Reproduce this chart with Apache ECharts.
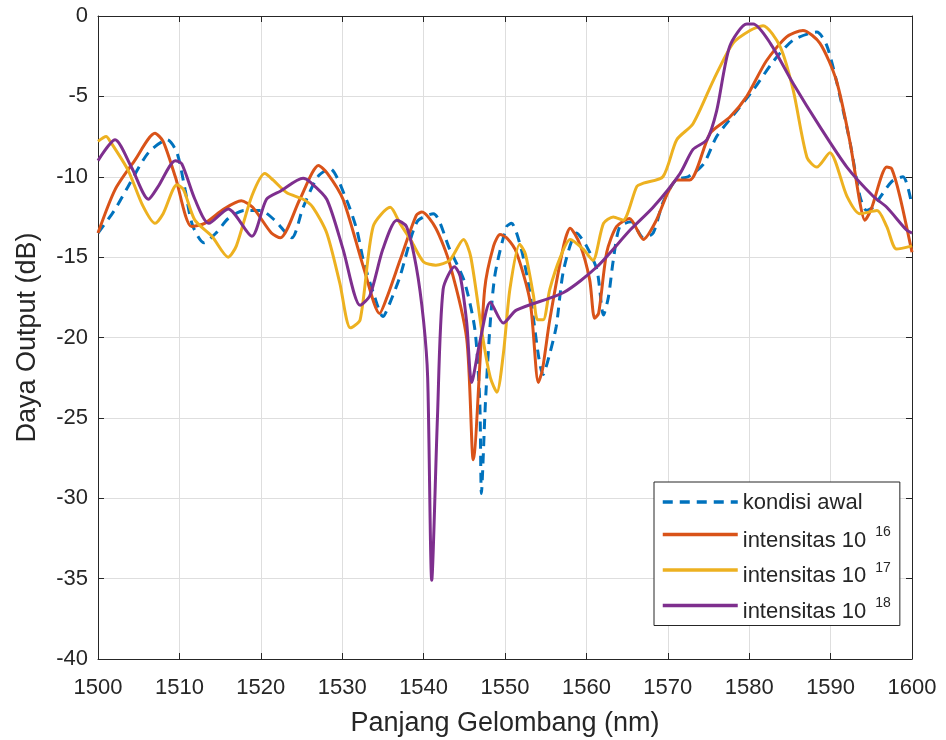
<!DOCTYPE html>
<html>
<head>
<meta charset="utf-8">
<script src="https://cdn.jsdelivr.net/npm/echarts@6/dist/echarts.min.js"></script>
<style>
  html, body { margin: 0; padding: 0; background: #fff; }
  #chart { width: 946px; height: 740px; }
</style>
</head>
<body>
<div id="chart"></div>
<script>
// wavelength (nm) / output power (dB)
const seriesNames = ['kondisi awal', 'intensitas 10^16', 'intensitas 10^17', 'intensitas 10^18']

const awal = [
  [1500,-13.5],[1502,-12.1],[1503.7,-10.6],[1506.2,-8.5],[1508.5,-7.7],[1509.7,-8.5],[1510.7,-10.8],
  [1511.6,-13],[1513,-14.1],[1514.5,-13.5],[1516,-12.6],[1518,-12.1],[1520,-12.1],[1521.7,-12.7],
  [1523.8,-13.8],[1525.2,-11.9],[1527,-10],[1528.5,-9.5],[1530.5,-11.4],[1531.8,-13.3],[1532.6,-15.2],
  [1534,-17.5],[1535,-18.7],[1535.9,-17.8],[1537.1,-16.2],[1539.2,-12.8],[1541.2,-12.3],[1543.2,-14.5],
  [1545,-16.5],[1546.3,-19.5],[1546.9,-24],[1547.1,-29.7],[1547.6,-24],[1548.2,-19],[1548.8,-16],
  [1550.2,-13.1],[1550.8,-12.9],[1552,-14.5],[1553,-17],[1554.7,-22.3],[1555.5,-21],[1556.3,-19.3],
  [1557.2,-15.8],[1558.8,-13.5],[1560,-14.3],[1561.3,-15.8],[1562.1,-18.6],[1562.7,-17.5],[1563.3,-15.2],
  [1564.1,-13.1],[1565.5,-12.8],[1567,-13.8],[1568.2,-13.5],[1569.4,-11.6],[1571,-10.2],[1572.5,-10],
  [1574.4,-9.2],[1576,-7.5],[1578,-6.2],[1580.5,-4.6],[1583,-2.8],[1585.4,-1.5],[1588.3,-1.0],
  [1589.5,-1.8],[1590.7,-4],[1592.4,-7.9],[1593.6,-11.2],[1594.4,-12.1],[1595.2,-11.9],[1597.5,-10.3],
  [1598.9,-10],[1600,-11.8]
]

const int16 = [
  [1500,-13.5],[1502.1,-10.8],[1504.5,-9],[1507,-7.3],[1508,-7.8],[1509.5,-10],[1511.5,-13.1],
  [1513.1,-12.9],[1515.5,-12],[1517.6,-11.5],[1519,-11.9],[1521.3,-13.5],[1522.4,-13.8],[1524.8,-11.4],
  [1527.1,-9.3],[1528.2,-9.8],[1530.1,-11.4],[1532.6,-15.6],[1534.6,-18.5],[1535.5,-17.5],[1537.1,-15.2],
  [1539.1,-12.4],[1539.8,-12.2],[1541.5,-13.2],[1543.2,-15.4],[1545.3,-20.1],[1546.1,-27.6],
  [1547.5,-17],[1548.6,-14.3],[1549.4,-13.6],[1550.2,-13.8],[1551.4,-14.7],[1553.1,-17.8],[1554.1,-22.8],
  [1554.6,-22],[1555.5,-18.9],[1557.2,-14.3],[1558,-13.2],[1559.2,-14.2],[1560.4,-16.4],[1561,-18.8],
  [1561.5,-18.5],[1562.5,-14.7],[1563.7,-13.1],[1565.3,-12.6],[1567,-13.9],[1568.5,-12.8],[1570,-11],
  [1571.1,-10.2],[1572.7,-10.2],[1575.2,-7.3],[1577.6,-6.3],[1579.7,-5],[1582.1,-2.8],[1584.6,-1.3],
  [1586.6,-0.9],[1588.7,-1.7],[1590.7,-4],[1592.4,-7.9],[1593.6,-11.6],[1594.2,-12.7],[1595,-12],
  [1596.9,-9.4],[1597.5,-9.5],[1598.5,-11.2],[1600,-14.7]
]

const int17 = [
  [1500,-7.8],[1501,-7.5],[1501.5,-7.8],[1503.7,-9.6],[1505.5,-11.8],[1507,-12.9],[1508,-12.3],
  [1509.7,-10.5],[1510.5,-10.8],[1511.9,-12.7],[1514,-13.7],[1516,-15],[1517,-14.3],[1518.9,-11.2],
  [1520.5,-9.8],[1521.5,-10.2],[1523.2,-11],[1525.2,-11.4],[1526.4,-11.9],[1528.1,-13.5],[1529.7,-16.6],
  [1531,-19.4],[1532.2,-18.9],[1533.8,-13.1],[1535.9,-11.9],[1537.1,-12.9],[1538.5,-14],[1540,-15.3],
  [1541.5,-15.5],[1543.2,-15.2],[1544.9,-13.9],[1545.8,-15],[1547.3,-20.1],[1548.2,-22.5],[1549,-23.4],
  [1549.8,-21],[1550.6,-17],[1551.8,-14.2],[1552.5,-14.8],[1553.5,-17.4],[1554,-18.9],[1554.7,-18.9],
  [1555.5,-17],[1556.8,-15],[1558,-13.9],[1559.6,-14.5],[1560.8,-15.2],[1562.1,-12.9],[1563.3,-12.5],
  [1564.5,-12.7],[1566.2,-10.6],[1567,-10.4],[1569.4,-10],[1571.1,-7.7],[1573.1,-6.7],[1575.6,-4],
  [1578,-1.7],[1580.1,-0.9],[1581.7,-0.6],[1583.8,-1.9],[1585.4,-4.6],[1587.1,-8.8],[1588.3,-9.4],
  [1589.9,-8.5],[1592,-11.2],[1593.6,-12.3],[1595.7,-12.1],[1596.9,-13.1],[1598.1,-14.5],[1600,-14.3]
]

const int18 = [
  [1500,-9],[1502.1,-7.7],[1504.1,-9.4],[1506.2,-11.4],[1507.4,-10.6],[1509.5,-9],[1510.3,-9.2],
  [1511.9,-11.4],[1513.6,-12.9],[1516,-12],[1518.9,-13.7],[1520.7,-11.4],[1522.4,-10.9],[1525.2,-10.1],
  [1526,-10.3],[1528.1,-11.4],[1530.1,-14.5],[1532.2,-18],[1533.4,-17.4],[1535,-14.5],[1536.7,-12.7],
  [1537.9,-13.1],[1539.1,-15.6],[1540,-19],[1540.5,-22.5],[1541,-35.1],[1541.7,-25],[1542.4,-17],
  [1543.8,-15.6],[1544.5,-16.2],[1545.3,-19.1],[1545.9,-22.8],[1546.9,-20.3],[1548.2,-17.8],[1549.8,-19.1],
  [1551.4,-18.3],[1557.2,-17.2],[1561.3,-15.6],[1565.4,-13.3],[1568.2,-11.9],[1571.5,-9.8],[1573.1,-8.3],
  [1574.8,-7.7],[1576,-5.9],[1577.6,-1.9],[1579.7,-0.5],[1580.5,-0.5],[1582.6,-1.7],[1585.4,-4.2],
  [1588.7,-6.9],[1592,-9.4],[1595.2,-11.2],[1596.9,-11.9],[1599.3,-13.3],[1600,-13.5]
]

const seriesData = [awal, int16, int17, int18]
const colors = ['#0072BD', '#D95319', '#EDB120', '#7E2F8E']

const font = '"Liberation Sans", Arial, Helvetica, sans-serif'
const ink = '#262626'

const myChart = echarts.init(document.getElementById('chart'))

const axisCommon = {
  type: 'value',
  axisLine: { show: true, onZero: false, lineStyle: { color: ink, width: 1 } },
  axisTick: { show: true, inside: true, length: 6, lineStyle: { color: ink } },
  minorTick: { show: false }
}

myChart.setOption({
  animation: false,
  color: colors,
  grid: { left: 98, right: 34, top: 16, bottom: 81, outerBoundsMode: 'none' },
  legend: {
    orient: 'vertical',
    left: 654,
    top: 482,
    padding: [2, 9, 3, 7],
    itemWidth: 75,
    itemHeight: 14,
    itemGap: 1.5,
    backgroundColor: '#fff',
    borderColor: ink,
    borderWidth: 1,
    itemStyle: { opacity: 0 },
    lineStyle: { width: 3.5 },
    data: seriesNames,
    formatter: name => {
      const parts = name.split('^')
      if (parts.length < 2) return '{k|' + name + '}'
      return '{a|' + parts[0] + '}{s|' + parts[1] + '}'
    },
    textStyle: {
      color: ink,
      fontFamily: font,
      rich: {
        k: { fontSize: 22, fontFamily: font, color: ink, lineHeight: 28, verticalAlign: 'bottom', padding: [8, 0, 2, 0] },
        a: { fontSize: 22, fontFamily: font, color: ink, lineHeight: 34, verticalAlign: 'bottom' },
        s: { fontSize: 14, fontFamily: font, color: ink, lineHeight: 34, verticalAlign: 'top', padding: [8, 0, 0, 9] }
      }
    }
  },
  xAxis: [
    Object.assign({}, axisCommon, {
      min: 1500, max: 1600, interval: 10,
      name: 'Panjang Gelombang (nm)',
      nameLocation: 'middle',
      nameGap: 51,
      nameTextStyle: { fontSize: 27, color: ink, fontFamily: font },
      axisLabel: { fontSize: 22, color: ink, fontFamily: font, margin: 18, formatter: v => String(v) },
      splitLine: { show: true, lineStyle: { color: '#dedede', width: 1 } }
    }),
    Object.assign({}, axisCommon, {
      min: 1500, max: 1600, interval: 10, position: 'top',
      axisLabel: { show: false }, splitLine: { show: false }
    })
  ],
  yAxis: [
    Object.assign({}, axisCommon, {
      min: -40, max: 0, interval: 5,
      name: 'Daya Output (dB)',
      nameLocation: 'middle',
      nameGap: 57,
      nameTextStyle: { fontSize: 27, color: ink, fontFamily: font },
      axisLabel: { fontSize: 22, color: ink, fontFamily: font, margin: 10 },
      splitLine: { show: true, lineStyle: { color: '#dedede', width: 1 } }
    }),
    Object.assign({}, axisCommon, {
      min: -40, max: 0, interval: 5, position: 'right',
      axisLabel: { show: false }, splitLine: { show: false }
    })
  ],
  series: seriesNames.map((name, i) => ({
    name,
    type: 'line',
    data: seriesData[i],
    symbol: 'none',
    smooth: 0.25,
    z: i === 0 ? 2 : 3 + i,
    lineStyle: {
      width: 3,
      color: colors[i],
      type: i === 0 ? [10, 7] : 'solid'
    }
  }))
})
</script>
</body>
</html>
